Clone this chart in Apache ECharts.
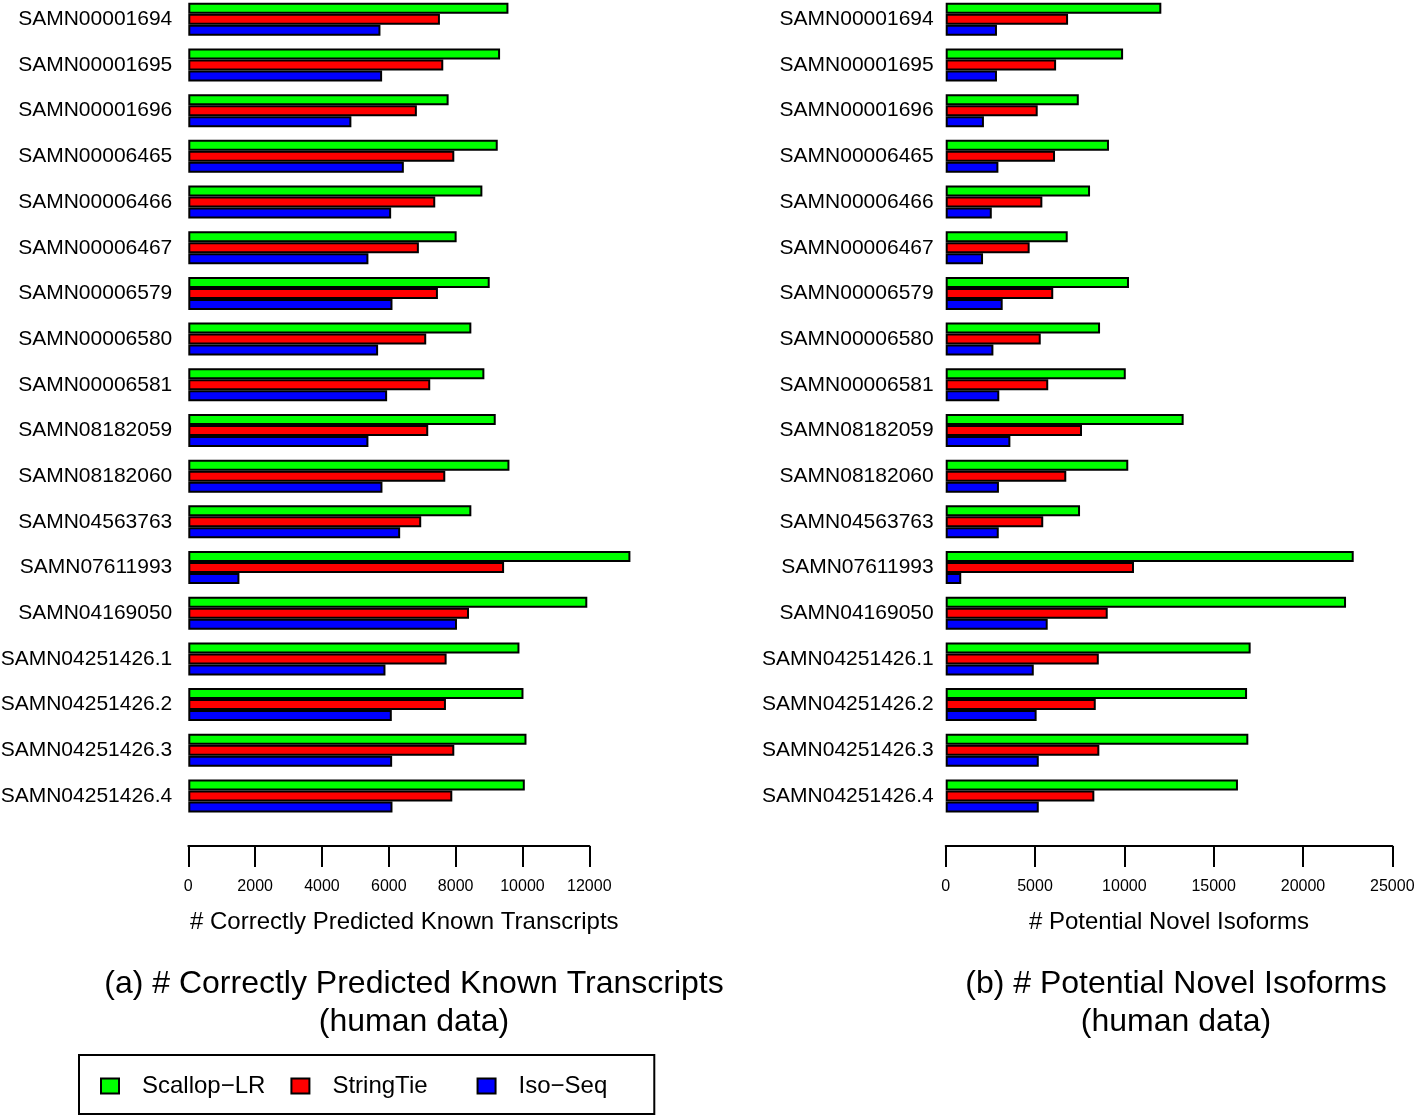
<!DOCTYPE html>
<html>
<head>
<meta charset="utf-8">
<script src="https://cdn.jsdelivr.net/npm/echarts@6/dist/echarts.min.js"></script>
<style>
html,body{margin:0;padding:0;background:#fff;}
#chart{width:1416px;height:1116px;}
</style>
</head>
<body>
<div id="chart"></div>
<script>
const categories = ["SAMN00001694","SAMN00001695","SAMN00001696","SAMN00006465","SAMN00006466","SAMN00006467","SAMN00006579","SAMN00006580","SAMN00006581","SAMN08182059","SAMN08182060","SAMN04563763","SAMN07611993","SAMN04169050","SAMN04251426.1","SAMN04251426.2","SAMN04251426.3","SAMN04251426.4"];
const seriesNames = ["Scallop\u2212LR","StringTie","Iso\u2212Seq"];

// (a) # Correctly Predicted Known Transcripts
const knownScallop = [9580,9330,7790,9260,8800,8030,9020,8470,8860,9200,9610,8470,13230,11940,9910,10030,10120,10070];
const knownStringTie = [7530,7630,6840,7960,7390,6900,7470,7120,7240,7180,7690,6970,9450,8400,7730,7710,7960,7900];
const knownIsoSeq = [5750,5800,4880,6450,6070,5390,6110,5680,5950,5390,5810,6340,1530,8040,5900,6090,6100,6110];

// (b) # Potential Novel Isoforms
const novelScallop = [12070,9930,7450,9140,8080,6830,10260,8640,10080,13320,10220,7520,22840,22410,17070,16870,16940,16360];
const novelStringTie = [6850,6180,5150,6120,5410,4700,6020,5320,5740,7630,6750,5460,10540,9070,8570,8400,8600,8320];
const novelIsoSeq = [2870,2870,2140,2950,2580,2090,3190,2670,3000,3620,2980,2970,870,5710,4930,5090,5210,5210];

const leftTicks = {min:0, max:12000, interval:2000};
const rightTicks = {min:0, max:25000, interval:5000};

const colors = ["#00ff00","#ff0000","#0000ff"];
const FONT = "Liberation Sans";

function barSeries(name, data, idx, color) {
  return {
    name: name, type: 'bar', data: data,
    xAxisIndex: idx, yAxisIndex: idx,
    barWidth: 11, barGap: '0%', clip: false,
    itemStyle: {color: color, borderColor: '#000', borderWidth: 2},
    emphasis: {disabled: true}
  };
}

function xAxisDef(idx, ticks, name, namePad) {
  return {
    type: 'value', gridIndex: idx, position: 'bottom', offset: 50,
    min: ticks.min, max: ticks.max, interval: ticks.interval,
    splitLine: {show: false},
    axisLine: {show: true, lineStyle: {color: '#000', width: 2}},
    axisTick: {show: true, length: 21, lineStyle: {color: '#000', width: 2}},
    axisLabel: {color: '#000', fontSize: 16, fontFamily: FONT, margin: 33, hideOverlap: false, showMaxLabel: true,
                formatter: function (v) { return String(v); }},
    name: name, nameLocation: 'middle', nameGap: 64,
    nameTextStyle: {color: '#000', fontSize: 24, fontFamily: FONT, padding: namePad}
  };
}

function yAxisDef(idx, margin) {
  return {
    type: 'category', gridIndex: idx, data: categories, inverse: true, boundaryGap: false,
    axisLine: {show: false}, axisTick: {show: false},
    axisLabel: {color: '#000', fontSize: 21, fontFamily: FONT, margin: margin, interval: 0}
  };
}

const legendStyleKey = {};
legendStyleKey[seriesNames[0]] = 'a';
legendStyleKey[seriesNames[1]] = 'b';
legendStyleKey[seriesNames[2]] = 'c';

const chart = echarts.init(document.getElementById('chart'), null, {renderer: 'canvas'});
chart.setOption({
  animation: false,
  backgroundColor: '#fff',
  grid: [
    {left: 188.3, width: 401, top: 19.3, height: 776.7, containLabel: false, outerBoundsMode: 'none'},
    {left: 945.7, width: 446.6, top: 19.3, height: 776.7, containLabel: false, outerBoundsMode: 'none'}
  ],
  xAxis: [
    xAxisDef(0, leftTicks, '# Correctly Predicted Known Transcripts', [0,0,0,31]),
    xAxisDef(1, rightTicks, '# Potential Novel Isoforms', [0,0,0,0])
  ],
  yAxis: [yAxisDef(0, 16), yAxisDef(1, 12)],
  title: [
    {text: '(a) # Correctly Predicted Known Transcripts\n(human data)', left: 409, top: 960, textAlign: 'center',
     textStyle: {fontSize: 32, fontWeight: 'normal', color: '#000', fontFamily: FONT, lineHeight: 38}},
    {text: '(b) # Potential Novel Isoforms\n(human data)', left: 1171, top: 960, textAlign: 'center',
     textStyle: {fontSize: 32, fontWeight: 'normal', color: '#000', fontFamily: FONT, lineHeight: 38}}
  ],
  legend: {
    data: seriesNames, selectedMode: false,
    left: 79, top: 1055, orient: 'horizontal',
    padding: [19, 47, 16, 21],
    borderColor: '#000', borderWidth: 2,
    itemWidth: 18, itemHeight: 15, itemGap: 17, icon: 'rect',
    itemStyle: {borderColor: '#000', borderWidth: 2},
    formatter: function (n) { return '{' + legendStyleKey[n] + '|' + n + '}'; },
    textStyle: {color: '#000', fontSize: 24, fontFamily: FONT,
      rich: {
        a: {fontSize: 24, fontFamily: FONT, color: '#000', lineHeight: 25, padding: [0, 8, 0, 18]},
        b: {fontSize: 24, fontFamily: FONT, color: '#000', lineHeight: 25, padding: [0, 32, 0, 18]},
        c: {fontSize: 24, fontFamily: FONT, color: '#000', lineHeight: 25, padding: [0, 0, 0, 18]}
      }}
  },
  series: [
    barSeries(seriesNames[0], knownScallop, 0, colors[0]),
    barSeries(seriesNames[1], knownStringTie, 0, colors[1]),
    barSeries(seriesNames[2], knownIsoSeq, 0, colors[2]),
    barSeries(seriesNames[0], novelScallop, 1, colors[0]),
    barSeries(seriesNames[1], novelStringTie, 1, colors[1]),
    barSeries(seriesNames[2], novelIsoSeq, 1, colors[2])
  ]
});
</script>
</body>
</html>
